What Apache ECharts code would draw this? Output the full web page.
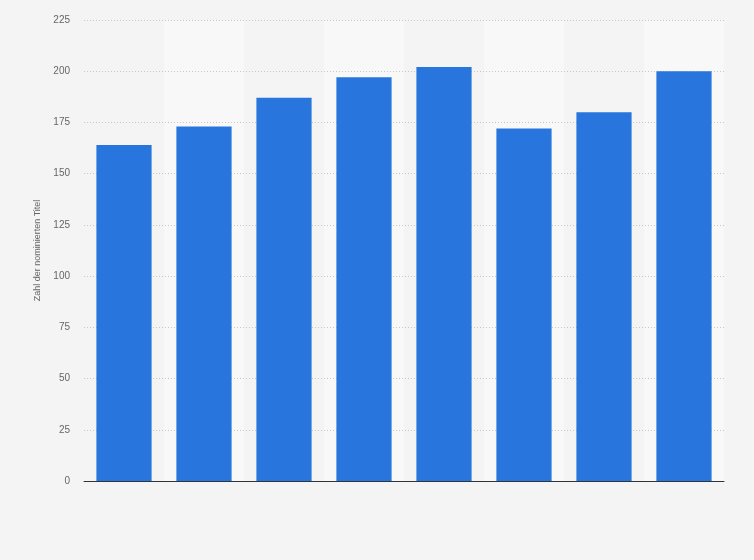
<!DOCTYPE html>
<html>
<head>
<meta charset="utf-8">
<script src="https://cdn.jsdelivr.net/npm/echarts@6/dist/echarts.min.js"></script>
<style>
  html, body { margin: 0; padding: 0; background: #f4f4f4; }
  #main { width: 754px; height: 560px; }
</style>
</head>
<body>
<div id="main"></div>
<script>
// Daten (Kategorien ohne sichtbare Beschriftung)
var categories = ['1', '2', '3', '4', '5', '6', '7', '8'];
var titel = [164, 173, 187, 197, 202, 172, 180, 200];
var yTicks = [0, 25, 50, 75, 100, 125, 150, 175, 200, 225];

var myChart = echarts.init(document.getElementById('main'));

var option = {
    backgroundColor: '#f4f4f4',
    animation: false,
    grid: {
        left: 84,
        right: 30,
        top: 20,
        bottom: 79
    },
    xAxis: {
        type: 'category',
        z: 0,
        data: categories,
        axisLine: { lineStyle: { color: '#333333', width: 1 } },
        axisTick: { show: false },
        axisLabel: { show: false },
        splitArea: {
            show: true,
            areaStyle: { color: ['rgba(0,0,0,0)', '#f8f8f8'] }
        }
    },
    yAxis: {
        type: 'value',
        z: 1,
        min: yTicks[0],
        max: yTicks[yTicks.length - 1],
        interval: 25,
        name: 'Zahl der nominierten Titel',
        nameLocation: 'middle',
        nameGap: 40,
        nameTextStyle: { color: '#666666', fontSize: 9, fontFamily: 'Arial, Liberation Sans, sans-serif' },
        axisLine: { show: false },
        axisTick: { show: false },
        axisLabel: {
            color: '#666666',
            fontSize: 10,
            margin: 14,
            fontFamily: 'Arial, Liberation Sans, sans-serif'
        },
        splitLine: {
            showMinLine: false,
            lineStyle: { color: '#c8c8c8', type: [1, 2], width: 1 }
        }
    },
    series: [
        {
            name: 'Titel',
            type: 'bar',
            data: titel,
            barCategoryGap: '31%',
            itemStyle: { color: '#2876dd' }
        }
    ]
};
myChart.setOption(option);
</script>
</body>
</html>
